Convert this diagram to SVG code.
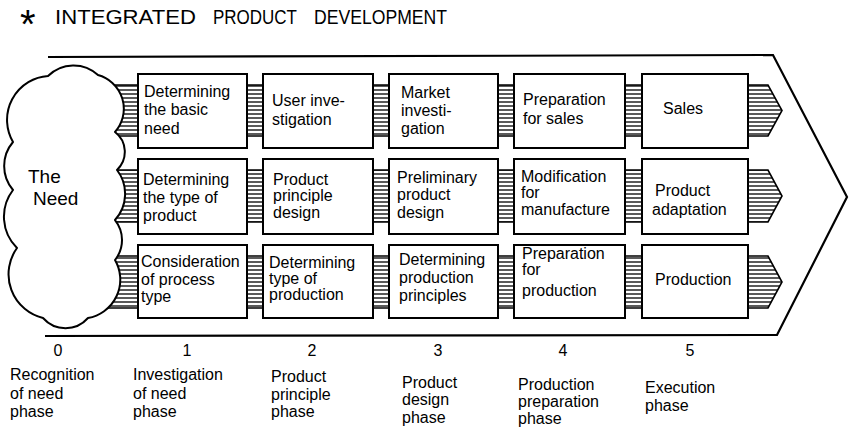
<svg xmlns="http://www.w3.org/2000/svg" width="850" height="437" viewBox="0 0 850 437">
<style>
text{font-family:"Liberation Sans","DejaVu Sans",sans-serif;font-size:16px;fill:#000}
.title{font-size:21px}
.box{fill:#fff;stroke:#000;stroke-width:2}
.cloud{fill:#fff;stroke:#000;stroke-width:2;stroke-linejoin:round}
.band{fill:url(#hatch);stroke:none}
.edge{fill:none;stroke:#000;stroke-width:1.6}
.tip{fill:url(#hatch);stroke:#000;stroke-width:1.6;stroke-linejoin:miter}
.outline{fill:none;stroke:#000;stroke-width:2.2;stroke-linejoin:miter}
.need{font-size:19px}
</style>
<defs>
<pattern id="hatch" patternUnits="userSpaceOnUse" x="0" y="0" width="8" height="4">
<rect width="8" height="4" fill="#fff"/>
<line x1="0" y1="2" x2="8" y2="2" stroke="#000" stroke-width="1.3"/>
</pattern>
</defs>
<rect width="850" height="437" fill="#fff"/>

<g id="title">
<text x="20" y="38" style="font-size:40px">*</text>
<text class="title" x="55" y="24" textLength="141" lengthAdjust="spacingAndGlyphs">INTEGRATED</text>
<text class="title" x="213" y="24" textLength="84" lengthAdjust="spacingAndGlyphs">PRODUCT</text>
<text class="title" x="314" y="24" textLength="133" lengthAdjust="spacingAndGlyphs">DEVELOPMENT</text>
</g>

<g id="outline">
<polyline class="outline" points="48,57 773,55 847,197 777,335 45,336"/>
</g>

<g id="connectors">
<g>
<rect class="band" x="105" y="85" width="36" height="51"/><path class="edge" d="M105,85H141M105,136H141"/>
<rect class="band" x="245" y="85" width="20" height="51"/><path class="edge" d="M245,85H265M245,136H265"/>
<rect class="band" x="371" y="85" width="20" height="51"/><path class="edge" d="M371,85H391M371,136H391"/>
<rect class="band" x="496" y="85" width="20" height="51"/><path class="edge" d="M496,85H516M496,136H516"/>
<rect class="band" x="623" y="85" width="21" height="51"/><path class="edge" d="M623,85H644M623,136H644"/>
<polygon class="tip" points="746,85 768,85 782,110.5 768,136 746,136"/>
</g>
<g>
<rect class="band" x="105" y="170" width="36" height="52"/><path class="edge" d="M105,170H141M105,222H141"/>
<rect class="band" x="245" y="170" width="20" height="52"/><path class="edge" d="M245,170H265M245,222H265"/>
<rect class="band" x="371" y="170" width="20" height="52"/><path class="edge" d="M371,170H391M371,222H391"/>
<rect class="band" x="496" y="170" width="20" height="52"/><path class="edge" d="M496,170H516M496,222H516"/>
<rect class="band" x="623" y="170" width="21" height="52"/><path class="edge" d="M623,170H644M623,222H644"/>
<polygon class="tip" points="746,170 768,170 782,196 768,222 746,222"/>
</g>
<g>
<rect class="band" x="105" y="256" width="36" height="52"/><path class="edge" d="M105,256H141M105,308H141"/>
<rect class="band" x="245" y="256" width="20" height="52"/><path class="edge" d="M245,256H265M245,308H265"/>
<rect class="band" x="371" y="256" width="20" height="52"/><path class="edge" d="M371,256H391M371,308H391"/>
<rect class="band" x="496" y="256" width="20" height="52"/><path class="edge" d="M496,256H516M496,308H516"/>
<rect class="band" x="623" y="256" width="21" height="52"/><path class="edge" d="M623,256H644M623,308H644"/>
<polygon class="tip" points="746,256 768,256 782,282 768,308 746,308"/>
</g>
</g>

<g id="need">
<path class="cloud" d="M13,142 A44 44 0 0 1 48,76 A36 36 0 0 1 98,75 A35 35 0 0 1 115,132 A25 25 0 0 1 117,170 A39 39 0 0 1 115,220 A32 32 0 0 1 115,260 A39 39 0 0 1 88,318 A30 30 0 0 1 43,318 A45 45 0 0 1 17,248 A44 44 0 0 1 13,190 A37 37 0 0 1 13,142 Z"/>
<text class="need" x="28" y="183">The</text>
<text class="need" x="33" y="205">Need</text>
</g>

<g id="n1a"><rect class="box" x="138" y="74" width="109" height="74"/>
<text x="144" y="97">Determining</text><text x="144" y="115">the basic</text><text x="144" y="134">need</text></g>
<g id="n2a"><rect class="box" x="263" y="74" width="110" height="74"/>
<text x="272" y="106">User inve-</text><text x="272" y="125">stigation</text></g>
<g id="n3a"><rect class="box" x="389" y="74" width="109" height="74"/>
<text x="401" y="98">Market</text><text x="401" y="116">investi-</text><text x="401" y="134">gation</text></g>
<g id="n4a"><rect class="box" x="514" y="74" width="111" height="74"/>
<text x="523" y="105">Preparation</text><text x="523" y="124">for sales</text></g>
<g id="n5a"><rect class="box" x="642" y="74" width="106" height="74"/>
<text x="663" y="114">Sales</text></g>

<g id="n1b"><rect class="box" x="138" y="159" width="109" height="75"/>
<text x="143" y="185">Determining</text><text x="143" y="203">the type of</text><text x="143" y="221">product</text></g>
<g id="n2b"><rect class="box" x="263" y="159" width="110" height="75"/>
<text x="273" y="185">Product</text><text x="273" y="201">principle</text><text x="273" y="218">design</text></g>
<g id="n3b"><rect class="box" x="389" y="159" width="109" height="75"/>
<text x="397" y="183">Preliminary</text><text x="397" y="200">product</text><text x="397" y="218">design</text></g>
<g id="n4b"><rect class="box" x="514" y="159" width="111" height="75"/>
<text x="521" y="182">Modification</text><text x="521" y="198">for</text><text x="521" y="215">manufacture</text></g>
<g id="n5b"><rect class="box" x="642" y="159" width="106" height="75"/>
<text x="655" y="196">Product</text><text x="652" y="215">adaptation</text></g>

<g id="n1c"><rect class="box" x="138" y="245" width="109" height="73"/>
<text x="141" y="267">Consideration</text><text x="141" y="285">of process</text><text x="141" y="302">type</text></g>
<g id="n2c"><rect class="box" x="263" y="245" width="110" height="73"/>
<text x="269" y="268">Determining</text><text x="269" y="284">type of</text><text x="269" y="300">production</text></g>
<g id="n3c"><rect class="box" x="389" y="245" width="109" height="73"/>
<text x="399" y="265">Determining</text><text x="399" y="283">production</text><text x="399" y="301">principles</text></g>
<g id="n4c"><rect class="box" x="514" y="245" width="111" height="73"/>
<text x="522" y="259">Preparation</text><text x="522" y="275">for</text><text x="522" y="296">production</text></g>
<g id="n5c"><rect class="box" x="642" y="245" width="106" height="73"/>
<text x="655" y="285">Production</text></g>

<g id="phases">
<text x="58" y="356" text-anchor="middle">0</text>
<text x="187" y="356" text-anchor="middle">1</text>
<text x="312" y="356" text-anchor="middle">2</text>
<text x="438" y="356" text-anchor="middle">3</text>
<text x="563" y="356" text-anchor="middle">4</text>
<text x="690" y="356" text-anchor="middle">5</text>
<text x="10" y="380">Recognition</text><text x="10" y="399">of need</text><text x="10" y="417">phase</text>
<text x="133" y="380">Investigation</text><text x="133" y="399">of need</text><text x="133" y="417">phase</text>
<text x="271" y="382">Product</text><text x="271" y="400">principle</text><text x="271" y="417">phase</text>
<text x="402" y="388">Product</text><text x="402" y="405">design</text><text x="402" y="423">phase</text>
<text x="518" y="390">Production</text><text x="518" y="407">preparation</text><text x="518" y="424">phase</text>
<text x="645" y="393">Execution</text><text x="645" y="411">phase</text>
</g>
</svg>
